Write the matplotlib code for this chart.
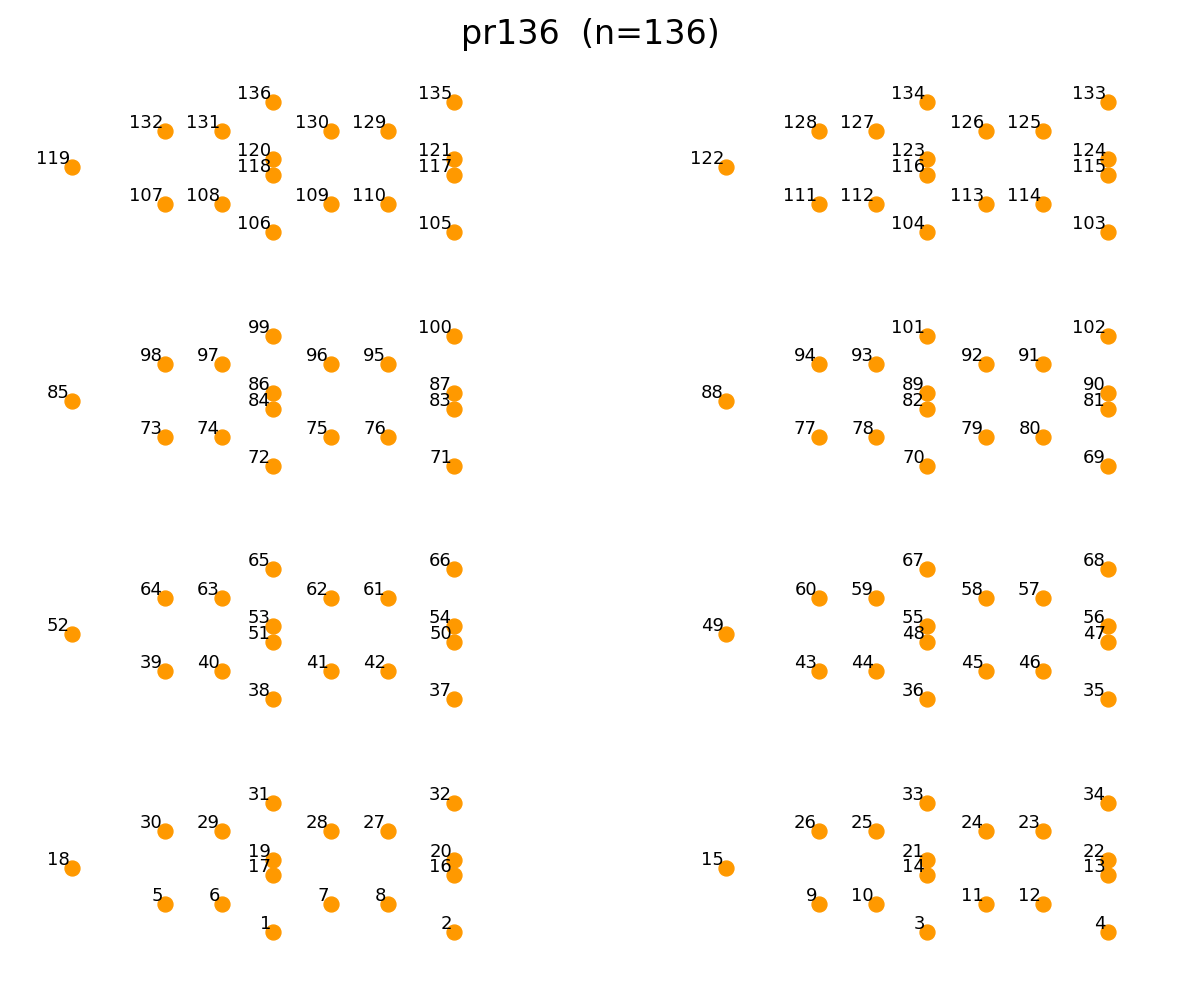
import matplotlib
matplotlib.use("Agg")
import matplotlib.pyplot as plt

# pr136 city coordinates (city i at index i-1)
xs = [201, 382, 855, 1036, 93, 150, 259, 316, 747, 804,
      914, 971, 1036, 855, 654, 382, 201, 0, 201, 382,
      855, 1036, 971, 914, 804, 747, 316, 259, 150, 93,
      201, 382, 855, 1036, 1036, 855, 382, 201, 93, 150,
      259, 316, 747, 804, 914, 971, 1036, 855, 654, 382,
      201, 0, 201, 382, 855, 1036, 971, 914, 804, 747,
      316, 259, 150, 93, 201, 382, 855, 1036, 1036, 855,
      382, 201, 93, 150, 259, 316, 747, 804, 914, 971,
      1036, 855, 382, 201, 0, 201, 382, 654, 855, 1036,
      971, 914, 804, 747, 316, 259, 150, 93, 201, 382,
      855, 1036, 1036, 855, 382, 201, 93, 150, 259, 316,
      747, 804, 914, 971, 1036, 855, 382, 201, 0, 201,
      382, 654, 855, 1036, 971, 914, 804, 747, 316, 259,
      150, 93, 1036, 855, 382, 201]
ys = [0, 0, 0, 0, 28, 28, 28, 28, 28, 28,
      28, 28, 57, 57, 64, 57, 57, 64, 72, 72,
      72, 72, 101, 101, 101, 101, 101, 101, 101, 101,
      129, 129, 129, 129, 233, 233, 233, 233, 261, 261,
      261, 261, 261, 261, 261, 261, 290, 290, 298, 290,
      290, 298, 306, 306, 306, 306, 334, 334, 334, 334,
      334, 334, 334, 334, 363, 363, 363, 363, 466, 466,
      466, 466, 495, 495, 495, 495, 495, 495, 495, 495,
      523, 523, 523, 523, 531, 539, 539, 531, 539, 539,
      568, 568, 568, 568, 568, 568, 568, 568, 596, 596,
      596, 596, 700, 700, 700, 700, 728, 728, 728, 728,
      728, 728, 728, 728, 757, 757, 757, 757, 765, 773,
      773, 765, 773, 773, 801, 801, 801, 801, 801, 801,
      801, 801, 830, 830, 830, 830]
labels = [str(i + 1) for i in range(len(xs))]
title = "pr136  (n=136)"

fig = plt.figure(figsize=(11.8, 9.95), dpi=100)
ax = fig.add_axes([0, 0, 1, 1])
ax.scatter(xs, ys, s=115, color="#ff9900", zorder=2)
for x, y, lab in zip(xs, ys, labels):
    ax.annotate(lab, (x, y), xytext=(-1.5, 0), textcoords="offset points",
                ha="right", va="bottom", fontsize=13, zorder=3)
ax.set_xlim(-72, 1108)
ax.set_ylim(-62, 933)
ax.axis("off")
fig.text(0.5, 1 - 44 / 995, title, ha="center", va="baseline", fontsize=24)

fig.savefig("out.png", dpi=100)
